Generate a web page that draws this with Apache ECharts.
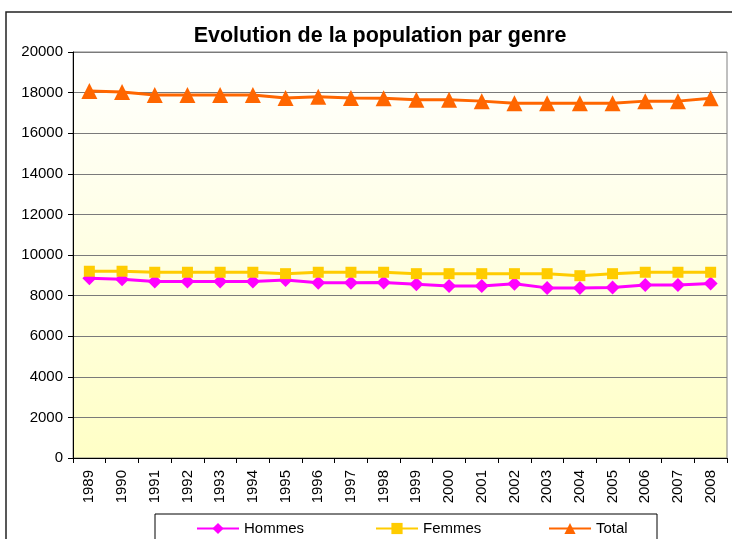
<!DOCTYPE html>
<html>
<head>
<meta charset="utf-8">
<script src="https://cdn.jsdelivr.net/npm/echarts@6/dist/echarts.min.js"></script>
<style>
  html, body { margin: 0; padding: 0; background: #fff; }
  #chart { width: 732px; height: 539px; }
</style>
</head>
<body>
<div id="chart"></div>
<script>
var years = ['1989', '1990', '1991', '1992', '1993', '1994', '1995', '1996', '1997', '1998',
             '1999', '2000', '2001', '2002', '2003', '2004', '2005', '2006', '2007', '2008'];
var hommes = [8850, 8800, 8700, 8700, 8700, 8700, 8770, 8630, 8630, 8650,
              8560, 8470, 8470, 8580, 8380, 8380, 8400, 8520, 8520, 8600];
var femmes = [9200, 9200, 9150, 9150, 9150, 9150, 9080, 9150, 9150, 9150,
              9080, 9080, 9080, 9080, 9080, 8980, 9080, 9150, 9150, 9150];
var total = [18080, 18030, 17880, 17880, 17880, 17880, 17730, 17800, 17730, 17720,
             17650, 17650, 17580, 17480, 17480, 17480, 17480, 17580, 17580, 17720];

var font = 'Liberation Sans, Arial, sans-serif';
var narrow = 'Liberation Sans Narrow, Arial Narrow, Liberation Sans, sans-serif';
var myChart = echarts.init(document.getElementById('chart'));

var legendBase = {
  top: 516,
  itemWidth: 42,
  itemHeight: 14,
  itemGap: 4,
  textStyle: { fontFamily: font, fontSize: 15, color: '#000' }
};

var option = {
  animation: false,
  title: {
    text: 'Evolution de la population par genre',
    left: 375,
    textAlign: 'center',
    top: 20,
    textStyle: { fontFamily: font, fontSize: 21.5, fontWeight: 'bold', color: '#000' }
  },
  graphic: [
    { type: 'rect', shape: { x: 6, y: 12, width: 800, height: 600 },
      style: { fill: 'none', stroke: '#222', lineWidth: 1.5 }, z: -1 },
    { type: 'rect', shape: { x: 155, y: 514, width: 502, height: 60 },
      style: { fill: '#fff', stroke: '#000', lineWidth: 1 }, z: 0 }
  ],
  legend: [
    Object.assign({ left: 191, data: ['Hommes'] }, legendBase),
    Object.assign({ left: 370, data: ['Femmes'] }, legendBase),
    Object.assign({ left: 543, data: ['Total'] }, legendBase)
  ],
  grid: {
    left: 73,
    right: 5,
    top: 52,
    bottom: 81,
    show: true,
    borderColor: '#808080',
    borderWidth: 1,
    backgroundColor: new echarts.graphic.LinearGradient(0, 0, 0, 1, [
      { offset: 0, color: '#FFFFFF' },
      { offset: 1, color: '#FFFFC6' }
    ])
  },
  xAxis: {
    type: 'category',
    data: years,
    boundaryGap: true,
    axisLine: { lineStyle: { color: '#000', width: 1 } },
    axisTick: { show: true, length: 5, lineStyle: { color: '#000' } },
    axisLabel: { rotate: 90, margin: 12, fontFamily: narrow, fontSize: 15, color: '#000' },
    splitLine: { show: false }
  },
  yAxis: {
    type: 'value',
    min: 0,
    max: 20000,
    interval: 2000,
    axisLine: { show: true, lineStyle: { color: '#000', width: 1 } },
    axisTick: { show: true, length: 5, lineStyle: { color: '#000' } },
    axisLabel: {
      margin: 10,
      fontFamily: font,
      fontSize: 15,
      color: '#000',
      formatter: function (v) { return String(v); }
    },
    splitLine: { lineStyle: { color: '#7a7a7a', width: 1 } }
  },
  series: [
    {
      name: 'Hommes',
      type: 'line',
      data: hommes,
      symbol: 'diamond',
      symbolSize: 14,
      itemStyle: { color: '#FF00FF' },
      lineStyle: { color: '#FF00FF', width: 3 }
    },
    {
      name: 'Femmes',
      type: 'line',
      data: femmes,
      symbol: 'rect',
      symbolSize: 11,
      itemStyle: { color: '#FFCC00' },
      lineStyle: { color: '#FFCC00', width: 3 }
    },
    {
      name: 'Total',
      type: 'line',
      data: total,
      symbol: 'triangle',
      symbolSize: 16,
      itemStyle: { color: '#FF6600' },
      lineStyle: { color: '#FF6600', width: 3 }
    }
  ]
};

myChart.setOption(option);
</script>
</body>
</html>
